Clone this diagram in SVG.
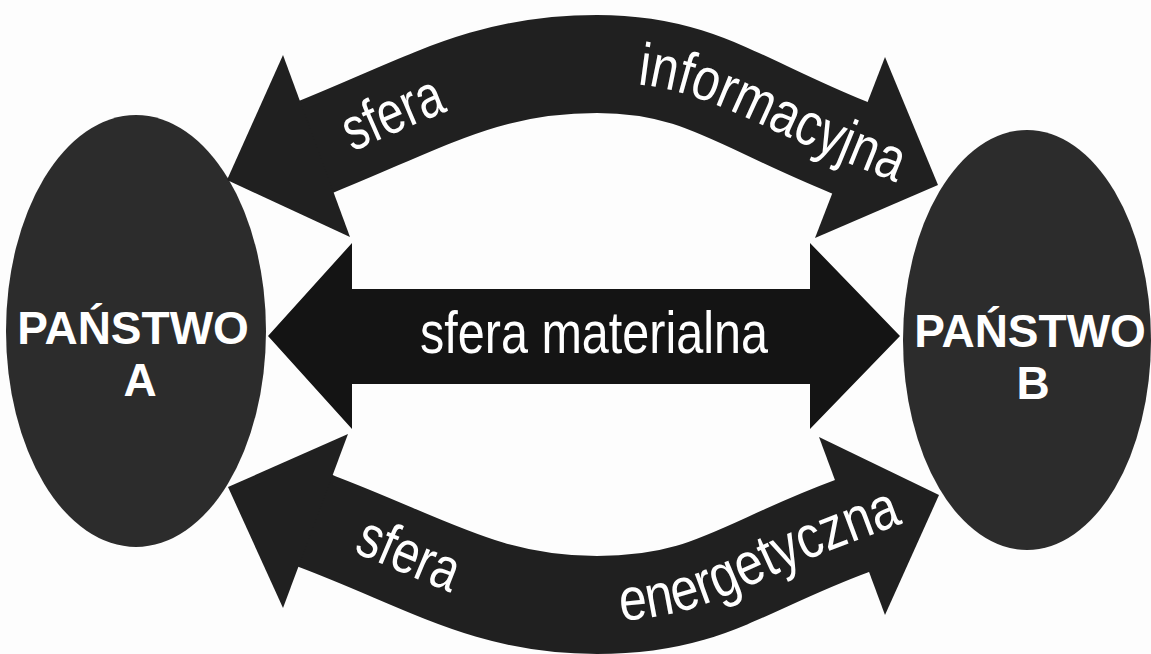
<svg xmlns="http://www.w3.org/2000/svg" width="1151" height="654" viewBox="0 0 1151 654">
  <style>
    .state { fill: #2c2c2c; }
    .state-label { fill: #ffffff; font-family: "Liberation Sans", Arial, sans-serif; font-weight: bold; font-size: 46px; text-anchor: middle; }
    .band { fill: none; stroke: #202020; stroke-width: 98; stroke-linecap: butt; }
    .head { fill: #202020; }
    .flat-arrow { fill: #141414; }
    .flow-label { fill: #ffffff; font-family: "Liberation Sans", Arial, sans-serif; font-size: 60px; }
  </style>
  <defs>
    <!-- centre lines of the curved bands -->
    <path id="top-spine" d="M 311,149 L 318,146 C 429,101 487,64 597,64 C 697,64 737,102 848,147 L 855,150"/>
    <path id="bottom-spine" d="M 309,518 L 315.5,521 C 427,563 487,605 597,605 C 707,605 741,567 852,526 L 858,524"/>
    <!-- label guides, shifted down so the lettering sits centred in the band -->
    <path id="top-guide" d="M 244,196 L 318,166 C 429,121 487,82 597,82 C 697,82 737,118 848,163 L 922,193"/>
    <path id="bottom-guide" d="M 240.5,509 L 315.5,537 C 427,579 487,621 597,621 C 707,621 741,583 852,542 L 927,514"/>
  </defs>

  <rect x="0" y="0" width="1151" height="654" fill="#fdfdfd"/>

  <!-- states -->
  <g id="panstwo-a">
    <ellipse class="state" cx="136" cy="331" rx="130" ry="216"/>
    <text class="state-label" x="133" y="344">PAŃSTWO</text>
    <text class="state-label" x="140" y="396">A</text>
  </g>
  <g id="panstwo-b">
    <ellipse class="state" cx="1027" cy="340" rx="124" ry="210"/>
    <text class="state-label" x="1030" y="347">PAŃSTWO</text>
    <text class="state-label" x="1033" y="399">B</text>
  </g>

  <!-- two-way flows between the states -->
  <g id="connectors">
    <g id="flow-informacyjna">
      <use href="#top-spine" class="band"/>
      <polygon class="head" points="227,180 283,55 350,237"/>
      <polygon class="head" points="938,185 885,57 815,238"/>
      <text class="flow-label"><textPath href="#top-guide" startOffset="117" textLength="104" lengthAdjust="spacingAndGlyphs">sfera</textPath></text>
      <text class="flow-label"><textPath href="#top-guide" startOffset="414" textLength="278" lengthAdjust="spacingAndGlyphs">informacyjna</textPath></text>
    </g>
    <g id="flow-materialna">
      <polygon class="flat-arrow" points="268,336 352,243 352,289 810,289 810,243 900,336 810,429 810,384 352,384 352,429"/>
      <text class="flow-label" x="420" y="353" textLength="348" lengthAdjust="spacingAndGlyphs">sfera materialna</text>
    </g>
    <g id="flow-energetyczna">
      <use href="#bottom-spine" class="band"/>
      <polygon class="head" points="228,487 348,434 283,608"/>
      <polygon class="head" points="939,495 819,437 885,615"/>
      <text class="flow-label"><textPath href="#bottom-guide" startOffset="120" textLength="106" lengthAdjust="spacingAndGlyphs">sfera</textPath></text>
      <text class="flow-label"><textPath href="#bottom-guide" startOffset="400" textLength="300" lengthAdjust="spacingAndGlyphs">energetyczna</textPath></text>
    </g>
  </g>
</svg>
